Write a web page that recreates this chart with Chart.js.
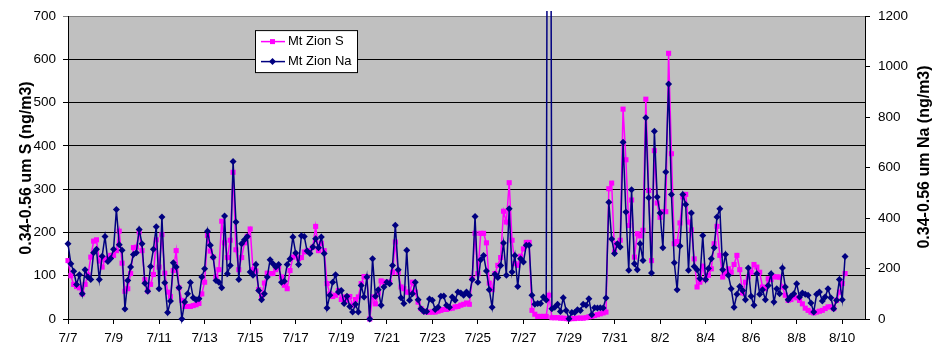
<!DOCTYPE html>
<html lang="en">

<head>
  <meta charset="UTF-8" />
  <title>Mt Zion - S e Na</title>
  <script src="https://cdn.jsdelivr.net/npm/chart.js"></script>
  <style>
    body { margin: 0; background: #fff; }
    canvas { display: block; }
  </style>
</head>

<body>
  <canvas id="graficoZion" width="940" height="348"></canvas>

<script>
  // amostras de 3 em 3 horas, começando em 7/7 00:00
  const amostrasPorDia = 8;
  const diasNoEixo = 35;

  const rotulosX = ['7/7', '7/9', '7/11', '7/13', '7/15', '7/17', '7/19', '7/21', '7/23',
    '7/25', '7/27', '7/29', '7/31', '8/2', '8/4', '8/6', '8/8', '8/10'];
  const ticksS = [0, 100, 200, 300, 400, 500, 600, 700];
  const ticksNa = [0, 200, 400, 600, 800, 1000, 1200];

  const tituloS = '0.34-0.56 um S (ng/m3)';
  const tituloNa = '0.34-0.56 um Na (ng/m3)';

  const serieS = [
    135, 100, 80, 75, 72, 58, 80, 102, 143, 180, 183, 134, 120, 137, 140, 147, 147, 158, 203, 129,
    64, 70, 105, 165, 166, 201, 158, 91, 65, 80, 103, 183, 120, 195, 106, 62, 52, 112, 158, 72,
    43, 29, 29, 29, 31, 33, 36,
    58, 85, 193, 157, 143, 97, 114, 226, 176, 142, 182, 339, 160, 114, 142, 176, 191, 208, 114, 111,
    68, 52, 83, 106, 105, 105, 114, 120, 97, 78, 70, 112, 143, 147, 139, 142, 155, 157, 158, 166,
    214, 158, 175, 158, 82,
    58, 52, 55, 66, 45, 51, 43, 52, 32, 45, 51, 82, 98, 97, 0, 51, 35, 60, 88, 85,
    85, 85, 108, 178, 108, 74, 70, 62, 62, 85, 62, 39, 24, 18, 16, 16, 16, 16, 18, 20,
    22, 22, 24, 25, 28, 29,
    32, 34, 37, 34, 93, 198, 105, 198, 198, 176, 83, 68, 105, 124, 142, 249, 224, 315, 182, 128,
    124, 145, 162, 177, 177, 20, 11, 6, 6, 6, 6, 55, 3, 3, 3, 2, 2, 1, 0, 1,
    1, 2, 2, 2, 3, 5, 6, 8, 10, 12, 14, 16,
    301, 314, 155, 174, 182, 485, 368, 216, 275, 143, 197, 192, 205, 508, 297, 135, 389, 268, 235, 248,
    248, 614, 382, 174, 179, 222, 282, 288, 224, 206, 139, 74, 85, 122, 91, 101, 116, 174, 214,
    147, 97, 105, 116, 108, 126, 147, 114, 60, 85, 97, 108, 126, 120, 108, 74, 70, 93, 91, 98,
    97, 97, 74, 55, 43, 45, 52, 49, 43, 35, 25, 20, 16, 14, 16, 18, 20, 24, 28, 28,
    24, 43, 62, 82, 105
  ];

  const serieNa = [
    298, 219, 189, 137, 175, 100, 195, 166, 156, 262, 276, 156, 249, 327, 228, 240, 276, 434, 294, 272,
    40, 153, 206, 256, 262, 355, 298, 142, 110, 208, 276, 365, 120, 404, 144, 26, 71, 223, 206, 124,
    0, 67, 100, 145, 84, 76, 80,
    166, 199, 348, 292, 245, 153, 146, 124, 408, 179, 212, 624, 384, 156, 298, 314, 327, 186, 173, 216,
    113, 76, 100, 166, 235, 219, 206, 216, 146, 150, 216, 238, 325, 261, 216, 330, 327, 269, 259, 285,
    318, 282, 325, 259, 44,
    94, 146, 175, 107, 113, 61, 90, 50, 28, 58, 28, 133, 87, 166, 0, 239, 90, 116, 54, 127,
    146, 140, 212, 371, 195, 84, 61, 272, 74, 100, 146, 76, 41, 30, 30, 79, 74, 38, 47, 90,
    91, 54, 47, 87, 74, 107,
    103, 94, 107, 94, 156, 406, 146, 235, 252, 190, 116, 47, 177, 164, 212, 301, 173, 437, 186, 252,
    129, 239, 226, 292, 292, 94, 58, 61, 61, 87, 75, 4500, 41, 47, 58, 30, 84, 34, 1, 26,
    26, 37, 34, 58, 54, 80, 17, 45, 44, 45, 44, 83,
    463, 317, 259, 298, 285, 700, 424, 193, 512, 219, 195, 298, 232, 797, 480, 182, 744, 483, 420, 282,
    582, 931, 493, 223, 116, 289, 493, 454, 193, 420, 208, 195, 160, 331, 156, 200, 239, 282, 404,
    437, 195, 256, 173, 120, 47, 98, 129, 113, 76, 202, 90, 54, 179, 98, 116, 76, 133, 179, 67,
    120, 100, 202, 127, 76, 90, 100, 140, 87, 103, 98, 94, 63, 28, 98, 107, 71, 87, 120, 84,
    41, 74, 156, 76, 248
  ];

  const fonte = '"Liberation Sans", Arial, sans-serif';

  function pontos(serie) {
    return serie.map((v, i) => ({ x: i / amostrasPorDia, y: v }));
  }

  // fundo cinza da área do gráfico
  const fundoPlot = {
    id: 'fundoPlot',
    beforeDraw(chart) {
      const { ctx, chartArea: a } = chart;
      ctx.save();
      ctx.fillStyle = '#ffffff';
      ctx.fillRect(0, 0, chart.width, chart.height);
      ctx.fillStyle = '#c0c0c0';
      ctx.fillRect(a.left, a.top, a.right - a.left, a.bottom - a.top);
      ctx.restore();
    }
  };

  // títulos dos eixos, os dois lidos de baixo para cima
  const titulosEixos = {
    id: 'titulosEixos',
    afterDraw(chart) {
      const ctx = chart.ctx;
      ctx.save();
      ctx.font = 'bold 16px ' + fonte;
      ctx.fillStyle = '#000';
      ctx.textAlign = 'center';
      ctx.textBaseline = 'middle';
      [[tituloS, 27, 168], [tituloNa, 925, 157]].forEach(([txt, x, y]) => {
        ctx.save();
        ctx.translate(x, y);
        ctx.rotate(-Math.PI / 2);
        ctx.fillText(txt, 0, 0);
        ctx.restore();
      });
      ctx.restore();
    }
  };

  // legenda em caixa branca dentro da área do gráfico
  const legendaCaixa = {
    id: 'legendaCaixa',
    afterDraw(chart) {
      const { ctx, chartArea: a } = chart;
      const x = a.left + 187;
      const y = a.top + 14;
      ctx.save();
      ctx.fillStyle = '#fff';
      ctx.fillRect(x, y, 102, 42);
      ctx.strokeStyle = '#000';
      ctx.lineWidth = 1;
      ctx.strokeRect(x + 0.5, y + 0.5, 102, 42);
      ctx.font = '13px ' + fonte;
      ctx.textBaseline = 'middle';
      chart.data.datasets.forEach((ds, i) => {
        const yy = y + 11.5 + i * 20;
        ctx.strokeStyle = ds.borderColor;
        ctx.lineWidth = 1.5;
        ctx.beginPath();
        ctx.moveTo(x + 6, yy);
        ctx.lineTo(x + 30, yy);
        ctx.stroke();
        ctx.fillStyle = ds.backgroundColor;
        ctx.beginPath();
        if (ds.pointStyle === 'rect') {
          ctx.rect(x + 15, yy - 2.5, 5, 5);
        } else {
          ctx.moveTo(x + 17.5, yy - 3.5);
          ctx.lineTo(x + 21, yy);
          ctx.lineTo(x + 17.5, yy + 3.5);
          ctx.lineTo(x + 14, yy);
          ctx.closePath();
        }
        ctx.fill();
        ctx.fillStyle = '#000';
        ctx.fillText(ds.label, x + 33, yy);
      });
      ctx.restore();
    }
  };

  const config = {
    type: 'line',
    data: {
      datasets: [{
        label: 'Mt Zion S',
        data: pontos(serieS),
        yAxisID: 'yS',
        borderColor: '#ff00ff',
        backgroundColor: '#ff00ff',
        borderWidth: 1.5,
        pointStyle: 'rect',
        pointRadius: 3.6,
        pointBorderWidth: 0,
        order: 1,
        clip: { left: 5, right: 5, top: 5, bottom: 5 }
      }, {
        label: 'Mt Zion Na',
        data: pontos(serieNa),
        yAxisID: 'yNa',
        borderColor: '#000080',
        backgroundColor: '#000080',
        borderWidth: 1.5,
        pointStyle: 'rectRot',
        pointRadius: 3.5,
        pointBorderWidth: 0,
        order: 0,
        clip: { left: 5, right: 5, top: 5, bottom: 5 }
      }]
    },
    options: {
      responsive: false,
      animation: false,
      events: [],
      layout: { padding: { top: 15, left: 0, right: 0, bottom: 0 } },
      plugins: {
        legend: { display: false },
        tooltip: { enabled: false }
      },
      scales: {
        x: {
          type: 'linear',
          min: 0,
          max: diasNoEixo,
          afterFit: (s) => { s.height = 29; },
          grid: { drawOnChartArea: false, color: '#000', tickLength: 5 },
          border: { color: '#000', width: 1 },
          ticks: {
            stepSize: 2,
            includeBounds: false,
            autoSkip: false,
            maxRotation: 0,
            padding: 6,
            color: '#000',
            font: { family: fonte, size: 13.5 },
            callback: (v) => rotulosX[v / 2]
          }
        },
        yS: {
          position: 'left',
          min: ticksS[0],
          max: ticksS[ticksS.length - 1],
          afterFit: (s) => { s.width = 68; },
          afterBuildTicks: (s) => { s.ticks = ticksS.map(v => ({ value: v })); },
          grid: {
            color: (c) => c.tick && c.tick.value === 700 ? '#808080' : '#000',
            lineWidth: 1,
            tickLength: 5
          },
          border: { color: '#000', width: 1 },
          ticks: {
            padding: 7,
            color: '#000',
            font: { family: fonte, size: 13.5 },
            callback: (v) => String(v)
          }
        },
        yNa: {
          position: 'right',
          min: ticksNa[0],
          max: ticksNa[ticksNa.length - 1],
          afterFit: (s) => { s.width = 75; },
          afterBuildTicks: (s) => { s.ticks = ticksNa.map(v => ({ value: v })); },
          grid: { drawOnChartArea: false, color: '#000', tickLength: 5 },
          border: { color: '#000', width: 1 },
          ticks: {
            padding: 8,
            color: '#000',
            font: { family: fonte, size: 13.5 },
            callback: (v) => String(v)
          }
        }
      }
    },
    plugins: [fundoPlot, titulosEixos, legendaCaixa]
  };

  new Chart(document.getElementById('graficoZion').getContext('2d'), config);
</script>
</body>

</html>
